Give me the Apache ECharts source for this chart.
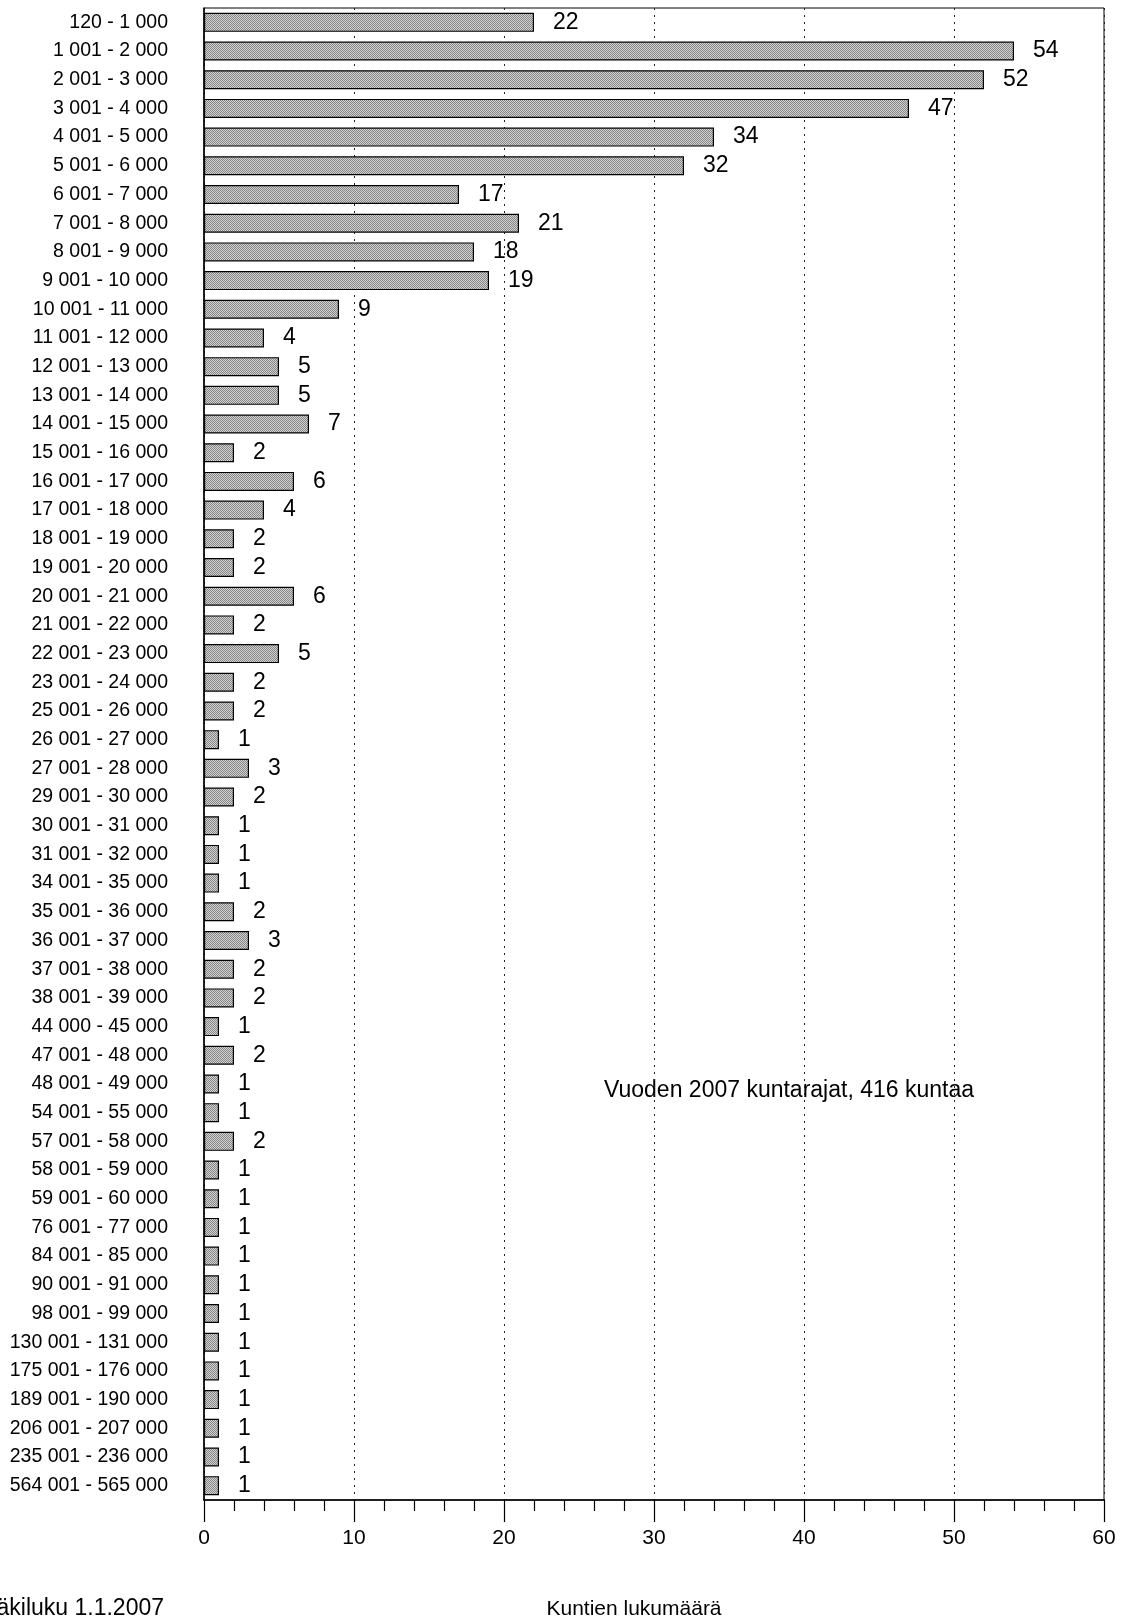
<!DOCTYPE html>
<html><head><meta charset="utf-8">
<script src="https://cdn.jsdelivr.net/npm/echarts@6/dist/echarts.min.js"></script>
<style>html,body{margin:0;padding:0;background:#fff}#c{width:1128px;height:1621px}</style>
</head><body><div id="c"></div>
<script>
const categories = ["120 - 1 000","1 001 - 2 000","2 001 - 3 000","3 001 - 4 000","4 001 - 5 000","5 001 - 6 000","6 001 - 7 000","7 001 - 8 000","8 001 - 9 000","9 001 - 10 000","10 001 - 11 000","11 001 - 12 000","12 001 - 13 000","13 001 - 14 000","14 001 - 15 000","15 001 - 16 000","16 001 - 17 000","17 001 - 18 000","18 001 - 19 000","19 001 - 20 000","20 001 - 21 000","21 001 - 22 000","22 001 - 23 000","23 001 - 24 000","25 001 - 26 000","26 001 - 27 000","27 001 - 28 000","29 001 - 30 000","30 001 - 31 000","31 001 - 32 000","34 001 - 35 000","35 001 - 36 000","36 001 - 37 000","37 001 - 38 000","38 001 - 39 000","44 000 - 45 000","47 001 - 48 000","48 001 - 49 000","54 001 - 55 000","57 001 - 58 000","58 001 - 59 000","59 001 - 60 000","76 001 - 77 000","84 001 - 85 000","90 001 - 91 000","98 001 - 99 000","130 001 - 131 000","175 001 - 176 000","189 001 - 190 000","206 001 - 207 000","235 001 - 236 000","564 001 - 565 000"];
const counts = [22,54,52,47,34,32,17,21,18,19,9,4,5,5,7,2,6,4,2,2,6,2,5,2,2,1,3,2,1,1,1,2,3,2,2,1,2,1,1,2,1,1,1,1,1,1,1,1,1,1,1,1];
const xTicks = {min:0, max:60, interval:10};
const xTitle = "Kuntien lukumäärä";
const yTitle = "Väkiluku 1.1.2007";
const note = "Vuoden 2007 kuntarajat, 416 kuntaa";

// stipple pattern
const pc = document.createElement('canvas');
pc.width = 4; pc.height = 4;
const g = pc.getContext('2d');
for (let i=0;i<4;i++) for (let j=0;j<4;j++){
  g.fillStyle = ((i+j)%2===0) ? '#858585' : '#d2d2d2';
  g.fillRect(i,j,1,1);
}

const chart = echarts.init(document.getElementById('c'), null, {renderer:'canvas'});
chart.setOption({
  animation:false,
  backgroundColor:'#fff',
  grid:{left:204, right:24, top:8, bottom:121, show:true, borderColor:'#000', borderWidth:1},
  xAxis:{type:'value', min:xTicks.min, max:xTicks.max, interval:xTicks.interval,
    axisLine:{show:true, lineStyle:{color:'#000', width:1.5}},
    axisTick:{show:true, inside:false, length:22, lineStyle:{color:'#000', width:1.2}},
    minorTick:{show:true, splitNumber:5, length:11, lineStyle:{color:'#000', width:1.2}},
    splitLine:{show:true, lineStyle:{color:'#222', type:[2,5], width:1}},
    axisLabel:{margin:28, color:'#000', fontSize:21, fontFamily:'Liberation Sans'}
  },
  yAxis:{type:'category', data:categories, inverse:true,
    axisLine:{show:true, lineStyle:{color:'#000', width:1.5}},
    axisTick:{show:false},
    axisLabel:{margin:36, color:'#000', fontSize:19.5, fontFamily:'Liberation Sans', interval:0}
  },
  series:[{type:'bar', data:counts, barWidth:19,
    itemStyle:{color:{image:pc, repeat:'repeat'}, borderColor:'#000', borderWidth:1.2},
    label:{show:true, position:'right', distance:19, color:'#000', fontSize:23, fontFamily:'Liberation Sans'}
  }],
  graphic:[
    {type:'text', x:164, y:1609, style:{text:yTitle, fill:'#000', fontSize:23, fontFamily:'Liberation Sans', align:'right', verticalAlign:'middle'}},
    {type:'text', x:634, y:1609, style:{text:xTitle, fill:'#000', fontSize:21, fontFamily:'Liberation Sans', align:'center', verticalAlign:'middle'}},
    {type:'text', x:789, y:1091, style:{text:note, fill:'#000', fontSize:23, fontFamily:'Liberation Sans', align:'center', verticalAlign:'middle'}}
  ]
});
</script></body></html>
